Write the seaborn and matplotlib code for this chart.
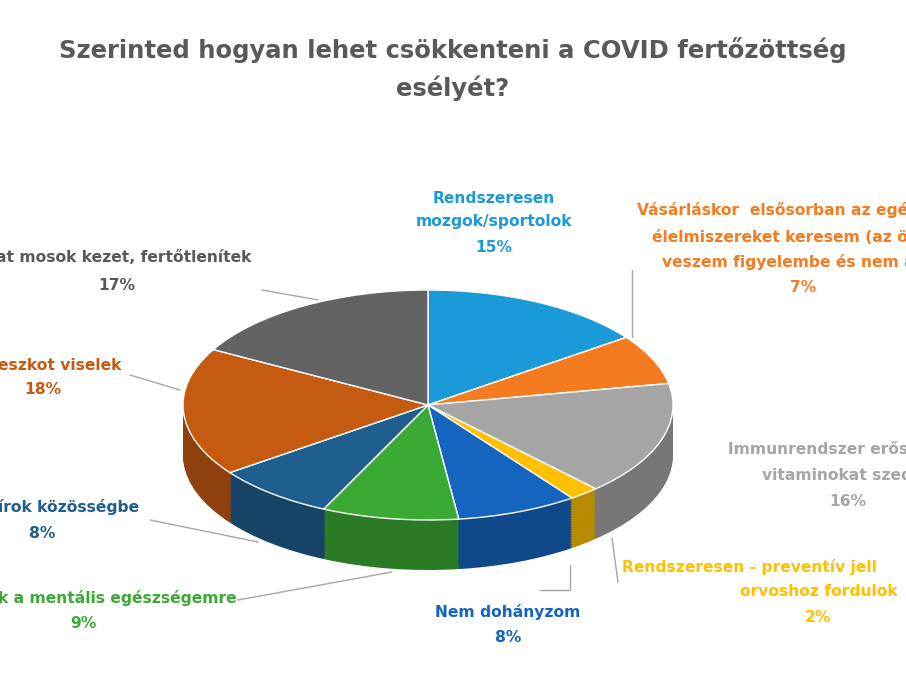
import matplotlib.pyplot as plt
import matplotlib.colors as mcolors
from matplotlib.lines import Line2D
import seaborn as sns

sns.set_theme(style="white")
plt.rcParams['font.family'] = ['DejaVu Sans']

# adatok (óramutató járásával egyezően, 12 órától)
shares = [15, 7, 16, 2, 8, 9, 8, 18, 17]
colors = ["#1a9ad6", "#f47b20", "#a5a5a5", "#ffc000", "#1565c0",
          "#3aaa35", "#1f5f8f", "#c55a11", "#636363"]

W, H = 906, 680
fig = plt.figure(figsize=(W / 100, H / 100), dpi=100)
ax = fig.add_axes([0, 0, 1, 1])

cx, cy, rx, ry, depth = 428, 405, 245, 115, 50

# oldalfal: sötétebb rétegek
def darker(c, f=0.72):
    r, g, b = mcolors.to_rgb(c)
    return (r * f, g * f, b * f)

n = 30
for k in range(n, 0, -1):
    off = depth / ry * k / n
    ax.pie(shares, colors=[darker(c) for c in colors], startangle=90,
           counterclock=False, center=(0, -off), radius=1,
           wedgeprops=dict(linewidth=0))
ax.pie(shares, colors=colors, startangle=90, counterclock=False,
       radius=1, wedgeprops=dict(linewidth=1, edgecolor="white"))
ax.set_aspect("auto")
ax.set_xlim(-cx / rx, (W - cx) / rx)
ax.set_ylim(-(H - cy) / ry, cy / ry)
ax.axis("off")

def t(x, y, s, color, ha="center", size=11.2, **kw):
    fig.text(x / W, 1 - y / H, s, color=color, ha=ha, va="center",
             fontsize=size, fontweight="bold", **kw)

def line(pts):
    xs = [p[0] / W for p in pts]
    ys = [1 - p[1] / H for p in pts]
    fig.add_artist(Line2D(xs, ys, color="#a6a6a6", lw=1))

t(453, 50, "Szerinted hogyan lehet csökkenteni a COVID fertőzöttség", "#595959", size=17.5)
t(453, 88, "esélyét?", "#595959", size=17.5)

t(494, 198, "Rendszeresen", "#1a9ad6")
t(494, 222, "mozgok/sportolok", "#1a9ad6")
t(494, 247, "15%", "#1a9ad6")

t(637, 210, "Vásárláskor  elsősorban az egé", "#f47b20", ha="left")
t(652, 237, "élelmiszereket keresem (az össz", "#f47b20", ha="left")
t(662, 262, "veszem figyelembe és nem az", "#f47b20", ha="left")
t(803, 287, "7%", "#f47b20")

t(-4, 258, "at mosok kezet, fertőtlenítek", "#595959", ha="left")
t(117, 285, "17%", "#595959")

t(-2, 365, "eszkot viselek", "#c55a11", ha="left")
t(43, 390, "18%", "#c55a11")

t(-2, 507, "írok közösségbe", "#1f5f8f", ha="left")
t(42, 534, "8%", "#1f5f8f")

t(-2, 598, "k a mentális egészségemre", "#3aaa35", ha="left")
t(83, 623, "9%", "#3aaa35")

t(508, 612, "Nem dohányzom", "#1565c0")
t(508, 637, "8%", "#1565c0")

t(622, 567, "Rendszeresen - preventív jell", "#ffc000", ha="left")
t(740, 592, "orvoshoz fordulok", "#ffc000", ha="left")
t(818, 617, "2%", "#ffc000")

t(728, 450, "Immunrendszer erős", "#a5a5a5", ha="left")
t(762, 476, "vitaminokat szed", "#a5a5a5", ha="left")
t(848, 502, "16%", "#a5a5a5")

line([(262, 290), (318, 300)])
line([(130, 375), (180, 390)])
line([(150, 520), (258, 542)])
line([(238, 600), (392, 572)])
line([(540, 590), (570, 590), (570, 565)])
line([(618, 582), (612, 538)])
line([(632, 337), (632, 270)])

fig.savefig("out.png", dpi=100)
